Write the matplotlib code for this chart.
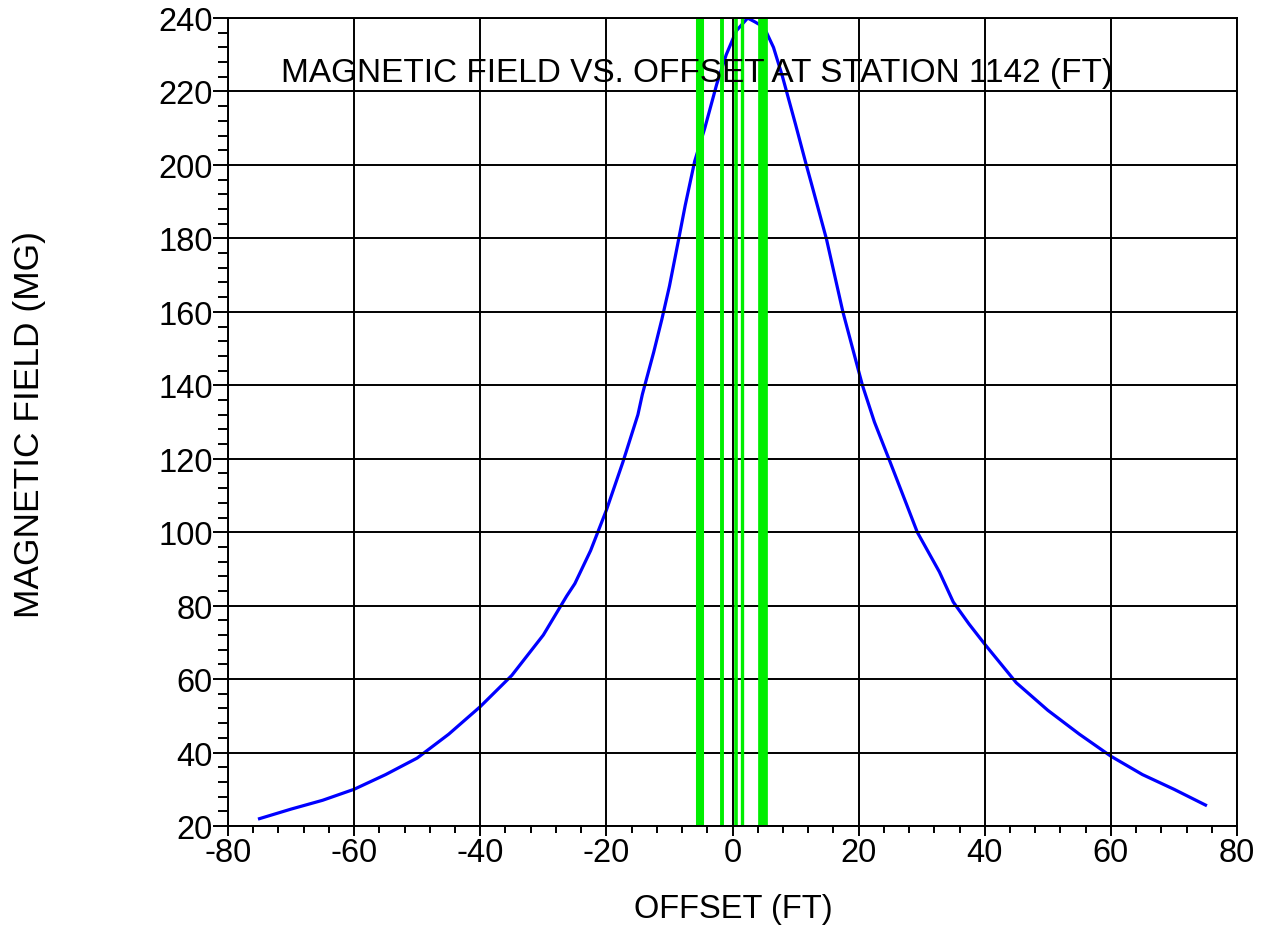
import numpy as np
import matplotlib
matplotlib.use('Agg')
import matplotlib.pyplot as plt
from matplotlib.ticker import MultipleLocator

plt.rcParams['font.family'] = ['Liberation Sans', 'DejaVu Sans']
plt.rcParams['axes.unicode_minus'] = False

# magnetic field profile
offset = [-75, -70, -65, -60, -55, -50, -45, -40, -35, -30, -26.3, -25, -22.5, -20,
          -17.4, -15, -14.3, -12.5, -11.2, -10, -8.4, -7.5, -6, -4.4,
          -2.5, -1, 0.6, 2.4, 3.5, 5, 6.5, 7.9, 10, 11.7, 12.5, 14.9, 17.5,
          20.6, 22.5, 24.9, 27.5, 29.3, 32.8, 35, 37.5, 40, 45, 50, 55, 60, 65, 70, 75]
field = [22, 24.6, 27, 30, 34, 38.5, 45, 52.5, 61, 72, 82.6, 86, 95, 106,
         119, 132, 137.5, 149, 158, 167, 181, 189, 201, 210,
         222, 230, 236.5, 240, 239, 237.5, 232, 224.2, 211, 200, 195, 179.8, 160,
         140, 130, 119.5, 108, 100, 89.2, 81, 75, 69.5, 59, 51.5, 45, 39, 34, 30, 25.7]

# green marker lines (offset, width in points)
green_x = [-5.2, -1.7, 0.6, 1.5, 4.8]
green_w = [5.8, 2.8, 2.6, 2.4, 7.0]

fig = plt.figure(figsize=(12.61, 9.29), dpi=100)
ax = fig.add_axes([0.1808, 0.1098, 0.8002, 0.8697])

ax.plot(offset, field, color='#0000ff', lw=2.3, zorder=2)
for gx, gw in zip(green_x, green_w):
    ax.axvline(gx, color='#00ee00', lw=gw, zorder=3)

ax.set_xlim(-80, 80)
ax.set_ylim(20, 240)
ax.xaxis.set_major_locator(MultipleLocator(20))
ax.xaxis.set_minor_locator(MultipleLocator(4))
ax.yaxis.set_major_locator(MultipleLocator(20))
ax.yaxis.set_minor_locator(MultipleLocator(4))

ax.grid(True, which='major', color='black', lw=1.4, zorder=4)
ax.set_axisbelow(False)
for s in ax.spines.values():
    s.set_linewidth(1.4)
    s.set_zorder(5)

ax.tick_params(axis='x', which='major', direction='out', length=7, width=1.4,
               pad=1, labelsize=23.5)
ax.tick_params(axis='x', which='minor', direction='out', length=5, width=1.4)
ax.tick_params(axis='y', which='major', direction='out', length=11, width=1.4,
               pad=0, labelsize=23.5)
ax.tick_params(axis='y', which='minor', direction='out', length=7, width=1.4)

ax.text(-5.7, 225.2, 'MAGNETIC FIELD VS. OFFSET AT STATION 1142 (FT)',
        ha='center', va='center', fontsize=24, zorder=6)

fig.text(733 / 1261, 1 - 910 / 929, 'OFFSET (FT)', ha='center', va='center',
         fontsize=23.5)
fig.text(30 / 1261, 1 - 425 / 929, 'MAGNETIC FIELD (MG)', rotation=90,
         ha='center', va='center', fontsize=25.5)

fig.savefig('out.png', dpi=100)
